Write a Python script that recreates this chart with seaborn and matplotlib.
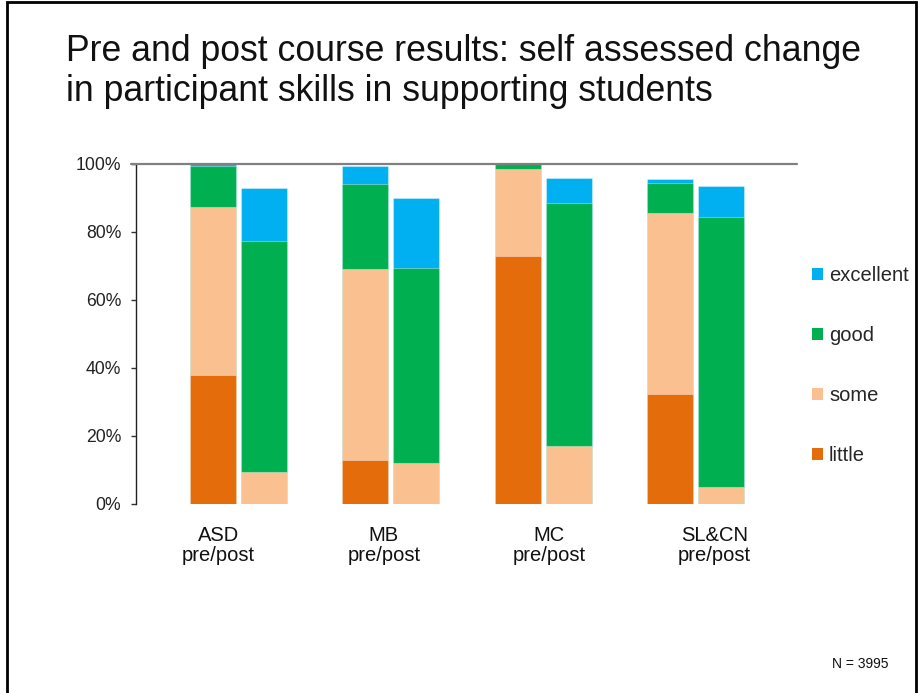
import matplotlib
matplotlib.use("Agg")
import matplotlib.pyplot as plt
from matplotlib.patches import Patch, Rectangle
import numpy as np
import pandas as pd
import seaborn as sns

# Course topics and self-assessed skill levels (percent of participants)
groups = ["ASD", "MB", "MC", "SL&CN"]
levels = ["excellent", "good", "some", "little"]

little_pre = [38.0, 13.0, 73.0, 32.5]
some_pre = [49.5, 56.0, 25.5, 53.0]
good_pre = [12.0, 25.0, 1.5, 9.0]
excellent_pre = [0.5, 5.5, 0.0, 1.0]

little_post = [0.0, 0.0, 0.0, 0.0]
some_post = [9.5, 12.0, 17.0, 5.0]
good_post = [68.0, 57.5, 71.5, 79.5]
excellent_post = [15.5, 20.5, 7.5, 9.0]

x_labels = ["ASD\npre/post", "MB\npre/post", "MC\npre/post", "SL&CN\npre/post"]
y_ticks = [0, 20, 40, 60, 80, 100]
note = "N = 3995"

# Layout: bar centres along the category axis (axis runs 0..4)
pre_centres = [0.466, 1.386, 2.312, 3.231]
post_offset = 0.308
bar_width = 0.278

colors = {
    "excellent": "#00B0F0",
    "good": "#00B050",
    "some": "#FAC090",
    "little": "#E46C0A",
}

sns.set_style("white")
plt.rcParams["font.family"] = ["Liberation Sans", "DejaVu Sans"]

rows = []
for i, g in enumerate(groups):
    for phase, vals, pos in (
        ("pre", (little_pre, some_pre, good_pre, excellent_pre), pre_centres[i]),
        ("post", (little_post, some_post, good_post, excellent_post), pre_centres[i] + post_offset),
    ):
        lit, som, goo, exc = (v[i] for v in vals)
        rows.append({
            "group": g, "phase": phase, "pos": pos,
            "little": lit,
            "some": lit + som,
            "good": lit + som + goo,
            "excellent": lit + som + goo + exc,
        })
df = pd.DataFrame(rows)

fig = plt.figure(figsize=(9.2, 6.93), dpi=100)
ax = fig.add_axes([136 / 920, 1 - 504 / 693, (797 - 136) / 920, (504 - 164) / 693])

# Stacked bars: draw cumulative totals from the top level down
for lev in levels:
    sns.barplot(
        data=df, x="pos", y=lev, native_scale=True,
        width=bar_width / post_offset, color=colors[lev], saturation=1,
        errorbar=None, edgecolor=(1, 1, 1, 0.35), linewidth=0.8, ax=ax,
    )

ax.set_xlim(0, 4)
ax.set_ylim(0, 100)
ax.set_xticks([0.5, 1.5, 2.5, 3.5])
ax.set_xticklabels(x_labels, fontsize=14.5, linespacing=1.05)
ax.set_yticks(y_ticks)
ax.set_yticklabels([f"{t}%" for t in y_ticks], fontsize=12.7, color="#222222")
ax.set_xlabel("")
ax.set_ylabel("")
ax.tick_params(axis="x", length=0, pad=16, colors="#111111")
ax.tick_params(axis="y", length=3.6, width=1, pad=7, color="#333333", left=True)

sns.despine(ax=ax, top=True, right=True, bottom=True, left=False)
ax.spines["left"].set_color("#222222")
ax.spines["left"].set_linewidth(1)

# 100% reference line across the plot
ax.axhline(100, xmin=-5 / 661, xmax=1, color="#808080", lw=1.6, clip_on=False, zorder=5)

# Legend
handles = [Patch(facecolor=colors[l], edgecolor="none") for l in levels]
fig.legend(
    handles, levels, loc="center left",
    bbox_to_anchor=(812 / 920, 1 - 365.5 / 693),
    frameon=False, fontsize=14.5, handlelength=0.55, handleheight=0.55,
    handletextpad=0.3, labelspacing=2.03, borderpad=0, borderaxespad=0,
)

# Title
fig.text(66 / 920, 1 - 61 / 693, "Pre and post course results: self assessed change",
         fontsize=25.7, va="baseline", ha="left", color="#111111")
fig.text(66 / 920, 1 - 101 / 693, "in participant skills in supporting students",
         fontsize=25.7, va="baseline", ha="left", color="#111111")

fig.text(860 / 920, 1 - 664 / 693, note, fontsize=10, ha="center", va="center", color="#111111")

# Slide frame
fig.patches.append(Rectangle((7 / 920, -0.05), (916 - 7) / 920, 1.05 - 2 / 693,
                             transform=fig.transFigure, fill=False,
                             edgecolor="black", lw=2, figure=fig))

fig.savefig("out.png", dpi=100)
